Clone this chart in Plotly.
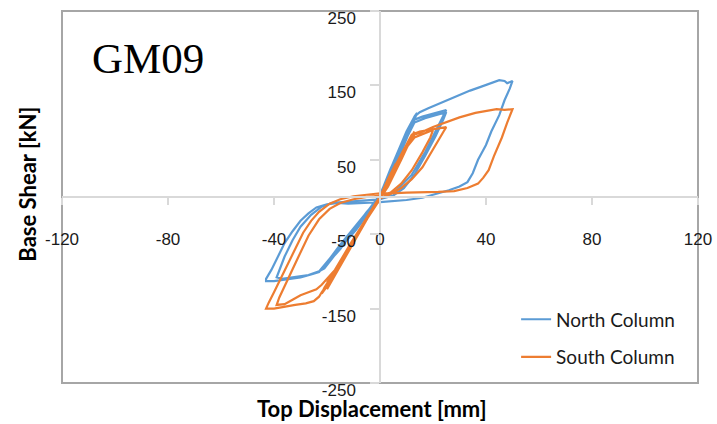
import plotly.graph_objects as go

# ---------------- data ----------------
north_disp = [0, 3, 6, 8, 7, 4, 1, 0, -3, -6, -8, -7, -4, -1, 0,
              4, 8, 11, 10, 6, 2, 0, -4, -9, -14, -12, -7, -2, 0,
              4, 9, 13, 14, 12, 7, 3, 0, -6, -13, -20, -18, -11, -5, 0,
              5, 10, 13, 16, 20, 23, 25, 24, 21, 17, 12, 6, 0, -7, -15, -23, -21, -14, -7, 0,
              5, 10, 13, 15, 18, 22, 26, 30, 34, 38, 42, 45, 47, 48, 50, 49, 47, 45, 42, 40, 37, 35, 33, 30,
              26, 21, 16, 10, 4, 0, -6, -12, -16, -20, -24, -27, -30, -33, -36, -39, -41, -43, -43, -40, -35,
              -30, -26, -23, -20, -15, -9, -4, 0,
              4, 9, 13, 17, 21, 25, 24, 21, 17, 13, 9, 5, 0, -6, -12, -18, -22, -26, -30, -33, -36, -38, -39,
              -37, -32, -27, -23, -22, -17, -11, -5, 0,
              4, 9, 12, 11, 7, 3, 0, -5, -11, -17, -15, -9, -3, 0]
north_force = [0, 28, 52, 68, 58, 30, 5, -2, -14, -28, -38, -33, -16, -2, 3,
               36, 68, 92, 82, 46, 12, -1, -20, -44, -64, -56, -32, -8, 2,
               38, 78, 108, 113, 96, 52, 16, -2, -28, -58, -88, -82, -48, -20, 0,
               44, 84, 104, 108, 112, 115, 117, 110, 88, 60, 30, 8, -3, -30, -66, -100, -96, -64, -30, 2,
               46, 88, 108, 114, 119, 125, 131, 138, 143, 148, 153, 157, 156, 153, 156, 146, 130, 110, 88, 70, 50, 32, 20, 14,
               9, 4, -1, -4, -6, -7, -8, -9, -8, -10, -14, -22, -32, -46, -62, -84, -98, -110, -113, -113, -111,
               -108, -104, -101, -88, -64, -38, -16, 0,
               34, 72, 100, 106, 110, 114, 105, 82, 55, 30, 12, 2, -3, -5, -6, -8, -13, -24, -40, -58, -80, -98, -108,
               -110, -108, -105, -100, -97, -74, -48, -22, 0,
               34, 75, 98, 88, 55, 20, 0, -22, -50, -78, -70, -40, -12, 0]

south_disp = [0, 3, 6, 5, 2, 0, -4, -8, -7, -3, 0,
              4, 8, 10, 9, 5, 1, 0, -5, -10, -14, -12, -7, -2, 0,
              4, 9, 13, 12, 8, 3, 0, -6, -13, -20, -18, -11, -4, 0,
              4, 9, 12, 15, 19, 22, 25, 24, 22, 19, 16, 12, 8, 4, 0, -6, -14, -21, -22, -20, -13, -6, 0,
              4, 9, 13, 15, 20, 25, 30, 36, 40, 44, 47, 50, 48, 46, 43, 41, 39, 37, 33, 28, 22, 16, 10, 4, 0,
              -5, -10, -15, -19, -23, -26, -29, -32, -35, -38, -40, -42, -43, -40, -36, -32, -28, -25, -23, -22,
              -18, -12, -6, 0,
              4, 9, 13, 17, 20, 19, 16, 12, 8, 4, 0, -5, -10, -15, -19, -23, -27, -31, -35, -38, -39, -36, -33,
              -30, -27, -24, -22, -17, -11, -5, 0,
              4, 9, 12, 10, 6, 2, 0, -6, -13, -19, -20, -17, -10, -4, 0]
south_force = [0, 24, 45, 38, 12, -2, -22, -45, -40, -16, 1,
               30, 56, 70, 62, 32, 4, -3, -30, -58, -80, -70, -40, -10, 1,
               30, 64, 88, 80, 50, 14, -2, -36, -78, -115, -106, -64, -22, 0,
               30, 64, 84, 88, 90, 92, 94, 88, 76, 58, 40, 24, 12, 4, -2, -34, -82, -122, -130, -120, -78, -36, 0,
               30, 64, 84, 86, 94, 101, 107, 113, 116, 118, 117, 118, 100, 80, 55, 36, 26, 18, 12, 8, 7, 6, 6, 5, 5,
               3, 1, -3, -9, -20, -32, -48, -70, -92, -115, -128, -142, -150, -150, -147, -145, -143, -140, -134, -128,
               -108, -72, -36, 0,
               30, 62, 80, 86, 90, 80, 60, 36, 18, 6, 2, 0, -3, -8, -16, -30, -52, -82, -112, -135, -145, -144, -138,
               -132, -128, -124, -118, -98, -62, -28, 0,
               28, 60, 78, 66, 38, 10, -2, -36, -80, -118, -124, -106, -60, -24, 0]

series_names = ["North Column", "South Column"]
x_ticks = [-120, -80, -40, 0, 40, 80, 120]
y_ticks = [-250, -150, -50, 50, 150, 250]
chart_label = "GM09"
x_title = "Top Displacement [mm]"
y_title = "Base Shear [kN]"

BLUE = "#5B9BD5"
ORANGE = "#ED7D31"

fig = go.Figure()
fig.add_trace(go.Scatter(x=north_disp, y=north_force, mode="lines", name=series_names[0],
                         legendgroup="n", line=dict(color=BLUE, width=2.2)))
fig.add_trace(go.Scatter(x=south_disp, y=south_force, mode="lines", name=series_names[1],
                         legendgroup="s", line=dict(color=ORANGE, width=2.2)))

axis_col = "#d9d9d9"
tick_font = dict(family="Liberation Sans, Arial, sans-serif", size=17, color="#1a1a1a")

fig.update_layout(
    width=717, height=424,
    margin=dict(l=62, r=19, t=11, b=41, autoexpand=False),
    paper_bgcolor="white", plot_bgcolor="white",
    showlegend=True,
    legend=dict(x=0.714, y=0.222, xanchor="left", yanchor="top",
                font=dict(family="Lato, sans-serif", size=19, color="#1a1a1a"),
                tracegroupgap=10, bgcolor="rgba(0,0,0,0)"),
    xaxis=dict(range=[-120.01, 120.01], tickvals=x_ticks, ticktext=[str(v) for v in x_ticks],
               showgrid=False, zeroline=False, showline=True, linecolor=axis_col, linewidth=1.5,
               anchor="free", position=0.5, side="bottom",
               ticks="outside", ticklen=7, tickcolor=axis_col, tickwidth=1.5,
               ticklabelstandoff=20, tickfont=tick_font),
    yaxis=dict(range=[-250.01, 250.01], tickvals=y_ticks, ticktext=[str(v) for v in y_ticks],
               showgrid=False, zeroline=False, showline=True, linecolor=axis_col, linewidth=1.5,
               anchor="free", position=0.5, side="left",
               ticks="outside", ticklen=9, tickcolor=axis_col, tickwidth=1.5,
               ticklabelstandoff=11, ticklabelshift=7, tickfont=tick_font),
    shapes=[dict(type="rect", xref="paper", yref="paper", x0=0, x1=1, y0=0, y1=1,
                 line=dict(color="#a6a6a6", width=2), fillcolor="rgba(0,0,0,0)", layer="below")],
    annotations=[
        dict(text=chart_label, xref="paper", yref="paper", x=0.044, y=0.873,
             xanchor="left", yanchor="middle", showarrow=False,
             font=dict(family="Liberation Serif, serif", size=43, color="black")),
        dict(text="<b>" + x_title + "</b>", xref="paper", yref="paper", x=0.488, y=-0.111,
             xanchor="center", yanchor="bottom", showarrow=False,
             font=dict(family="Lato, sans-serif", size=22, color="black")),
        dict(text="<b>" + y_title + "</b>", xref="paper", yref="paper", x=-0.054, y=0.535,
             xanchor="center", yanchor="middle", showarrow=False, textangle=-90,
             font=dict(family="Lato, sans-serif", size=22, color="black")),
    ],
)

fig.write_html("out.html", config={"displayModeBar": False},
               post_script="document.body.style.margin='0';")
